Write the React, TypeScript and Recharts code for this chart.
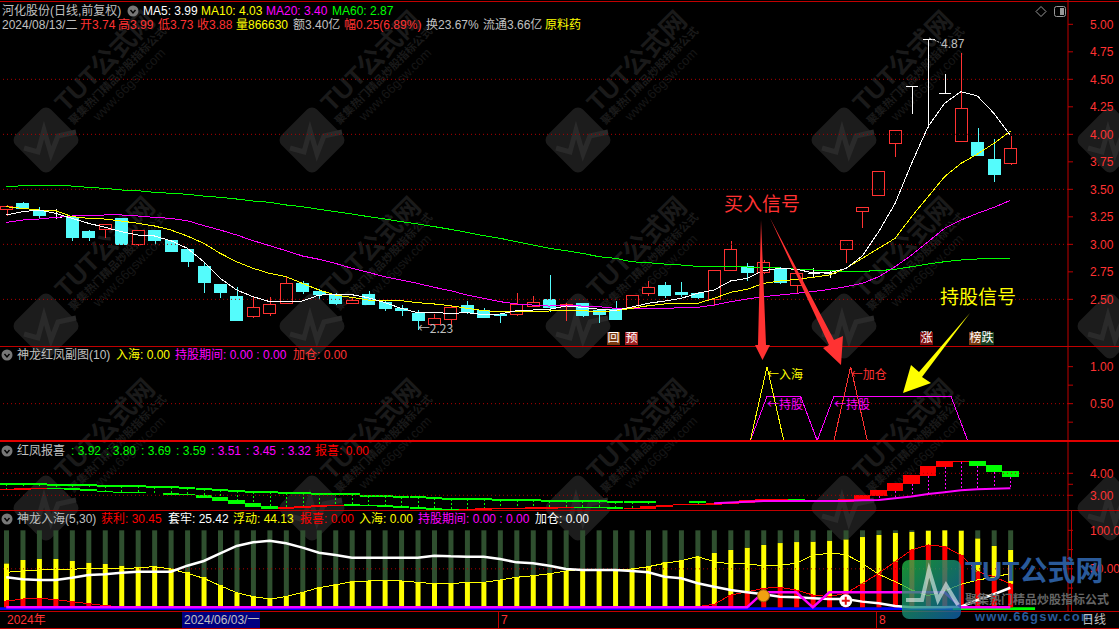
import { Bar, ComposedChart, Line, ReferenceArea, ReferenceDot, ReferenceLine, XAxis, YAxis } from 'recharts';

const RED = '#ff3232';
const CYAN = '#54fcfc';
const YEL = '#ffff00';
const MAG = '#ff00ff';
const GRN = '#00ff00';
const GREY = '#c0c0c0';
const GRID = '#b00000';
const FONT = '"Liberation Sans","Noto Sans CJK SC",sans-serif';
const CJK = '"Noto Sans CJK SC",sans-serif';

const opens = [3.32,3.38,3.31,3.245,3.25,3.12,3.14,3.235,3.0,3.13,3.04,2.96,2.8,2.64,2.53,2.35,2.38,2.47,2.645,2.575,2.54,2.47,2.545,2.475,2.42,2.38,2.28,2.325,2.45,2.4,2.37,2.365,2.44,2.5,2.44,2.465,2.4,2.415,2.435,2.56,2.635,2.565,2.56,2.5,2.77,2.8,2.75,2.78,2.635,2.735,2.74,2.955,3.3,3.45,3.925,4.435,4.87,4.38,3.94,3.93,3.775,3.74];
const closes = [3.35,3.33,3.27,3.245,3.07,3.07,3.185,3.005,3.13,3.04,2.94,2.85,2.66,2.57,2.31,2.435,2.46,2.645,2.58,2.55,2.47,2.495,2.46,2.425,2.4,2.31,2.335,2.435,2.385,2.34,2.36,2.46,2.48,2.43,2.46,2.355,2.365,2.32,2.54,2.615,2.54,2.55,2.525,2.765,2.955,2.75,2.84,2.66,2.735,2.735,2.74,3.035,3.335,3.665,4.035,4.435,4.87,4.38,4.235,3.81,3.64,3.88];
const highs = [3.37,3.39,3.35,3.33,3.28,3.14,3.185,3.235,3.13,3.13,3.05,2.97,2.85,2.64,2.62,2.53,2.53,2.71,2.68,2.6,2.57,2.525,2.585,2.5,2.46,2.41,2.38,2.45,2.495,2.43,2.375,2.565,2.54,2.73,2.48,2.48,2.42,2.49,2.54,2.68,2.665,2.665,2.58,2.765,3.04,2.84,2.87,2.8,2.735,2.795,2.78,3.035,3.335,3.665,4.035,4.435,4.87,4.555,4.75,4.07,3.97,3.99];
const lows = [3.27,3.33,3.24,3.24,3.04,3.04,3.07,3.005,2.995,3.0,2.94,2.8,2.57,2.52,2.31,2.34,2.36,2.47,2.56,2.505,2.46,2.465,2.46,2.4,2.36,2.23,2.28,2.28,2.38,2.34,2.29,2.36,2.44,2.39,2.31,2.35,2.295,2.32,2.42,2.54,2.525,2.53,2.51,2.45,2.77,2.68,2.74,2.645,2.57,2.7,2.705,2.84,3.16,3.45,3.8,4.19,4.07,4.38,3.94,3.81,3.575,3.73];
const ma5 = [3.267,3.297,3.312,3.282,3.236,3.191,3.155,3.115,3.085,3.076,3.033,2.964,2.842,2.691,2.585,2.524,2.479,2.479,2.485,2.539,2.542,2.542,2.515,2.47,2.418,2.379,2.379,2.373,2.379,2.361,2.367,2.397,2.403,2.409,2.44,2.427,2.41,2.4,2.43,2.464,2.485,2.509,2.555,2.585,2.667,2.691,2.761,2.782,2.773,2.742,2.742,2.779,2.894,3.115,3.373,3.736,4.07,4.282,4.388,4.348,4.191,3.99];
const ma10 = [3.342,3.327,3.312,3.306,3.252,3.236,3.23,3.212,3.191,3.167,3.13,3.076,3.009,2.918,2.842,2.782,2.736,2.706,2.645,2.585,2.539,2.518,2.494,2.488,2.488,2.47,2.458,2.442,2.418,2.397,2.388,2.388,2.388,2.394,2.403,2.397,2.388,2.397,2.418,2.442,2.458,2.464,2.464,2.509,2.564,2.591,2.645,2.667,2.682,2.7,2.721,2.782,2.873,2.964,3.055,3.252,3.433,3.615,3.736,3.821,3.918,4.03];
const ma20 = [3.2,3.221,3.23,3.245,3.258,3.261,3.267,3.267,3.258,3.245,3.236,3.215,3.17,3.13,3.085,3.033,2.988,2.942,2.894,2.864,2.827,2.782,2.745,2.706,2.676,2.645,2.609,2.579,2.539,2.509,2.479,2.458,2.448,2.439,2.448,2.439,2.433,2.418,2.418,2.418,2.418,2.424,2.427,2.448,2.479,2.503,2.524,2.539,2.555,2.57,2.591,2.615,2.645,2.706,2.797,2.903,3.024,3.145,3.221,3.282,3.336,3.4];
const ma60 = [3.524,3.533,3.536,3.536,3.53,3.518,3.509,3.494,3.488,3.473,3.464,3.455,3.439,3.427,3.412,3.394,3.382,3.358,3.342,3.318,3.297,3.276,3.252,3.23,3.206,3.185,3.161,3.136,3.109,3.079,3.055,3.024,2.994,2.964,2.942,2.918,2.888,2.873,2.842,2.833,2.821,2.812,2.8,2.797,2.797,2.794,2.791,2.785,2.773,2.767,2.761,2.755,2.755,2.761,2.773,2.797,2.821,2.842,2.858,2.867,2.87,2.87];

const n = null;
const rushIn = [n,n,n,n,n,n,n,n,n,n,n,n,n,n,n,n,n,n,n,n,n,n,n,n,n,n,n,n,n,n,n,n,n,n,n,n,n,n,n,n,n,n,n,n,n,0,1,0,n,n,0,0,0,n,n,n,n,n,n,n,n,n];
const addPos = [n,n,n,n,n,n,n,n,n,n,n,n,n,n,n,n,n,n,n,n,n,n,n,n,n,n,n,n,n,n,n,n,n,n,n,n,n,n,n,n,n,n,n,n,n,n,n,n,n,n,0,1,0,n,n,n,n,n,n,n,n,n];
const holding = [n,n,n,n,n,n,n,n,n,n,n,n,n,n,n,n,n,n,n,n,n,n,n,n,n,n,n,n,n,n,n,n,n,n,n,n,n,n,n,n,n,n,n,n,n,0,0.6,0.6,0.6,0,0.6,0.6,0.6,0.6,0.6,0.6,0.6,0.6,0,n,n,n];

const phUpper = [3.53,3.53,3.53,3.49,3.49,3.49,3.44,3.44,3.44,3.39,3.39,3.33,3.29,3.24,3.2,3.15,3.15,3.11,3.11,3.05,3.05,3.05,2.98,2.98,2.94,2.94,2.88,2.83,2.83,2.83,2.79,2.79,2.79,2.74,2.74,2.74,2.74,2.7,2.7,2.7,n,n,2.7,n,n,n,n,n,n,n,n,n,n,n,n,n,n,n,n,n,n,n];
const phHi = [3.29,3.32,3.33,3.32,3.32,3.27,3.18,3.15,3.14,3.12,3.11,3.06,3.02,2.92,2.79,2.65,2.51,2.47,2.51,2.56,2.58,2.59,2.56,2.54,2.5,2.45,2.41,2.38,2.38,2.42,2.41,2.41,2.47,2.45,2.47,2.47,2.47,2.47,2.41,2.51,2.56,2.61,2.62,2.64,2.71,2.79,2.83,2.83,2.83,2.8,2.8,2.83,3.02,3.24,3.56,3.92,4.32,4.56,4.56,4.56,4.38,4.11];
const phLo = [3.26,3.26,3.29,3.29,3.26,3.18,3.14,3.12,3.09,3.09,3.03,3.0,2.89,2.76,2.61,2.48,2.38,2.39,2.44,2.48,2.52,2.53,2.52,2.48,2.44,2.39,2.35,2.33,2.35,2.35,2.38,2.38,2.39,2.39,2.42,2.42,2.42,2.39,2.38,2.39,2.47,2.54,2.56,2.58,2.59,2.67,2.74,2.76,2.74,2.71,2.74,2.71,2.77,2.97,3.21,3.52,3.89,4.3,4.53,4.35,4.06,3.83];
const phRising = [1,1,1,0,0,0,0,0,0,0,0,0,0,0,0,0,0,1,1,1,1,0,0,0,0,0,0,0,1,1,1,1,1,1,1,0,0,0,1,1,1,1,1,1,1,1,1,1,0,0,1,1,1,1,1,1,1,1,1,0,0,0];
const phFloor = [n,n,n,n,n,n,n,n,n,n,n,n,n,n,n,n,n,n,n,n,n,n,n,n,n,n,n,n,n,n,n,n,n,n,n,n,n,n,n,n,n,n,n,2.64,2.67,2.71,2.74,2.74,2.74,2.74,2.74,2.74,2.77,2.79,2.86,2.94,3.06,3.14,3.23,3.27,3.3,3.32];

const chipTop = [57.1,61.5,62.8,62.8,60.2,58,56.3,54.1,52.8,53.7,50.6,46.3,39.4,29,19,13.9,10.8,14.7,20.3,26.8,30.3,34.6,34.2,34.2,34.2,32.5,30.7,31.2,32.5,32.5,35.5,39,41.1,43.7,47.2,49.4,49.4,49.4,50.6,53.7,58.9,61.5,66.2,70.6,74.5,77.5,81,83.5,84.8,85.3,86.6,88.3,91.3,93.9,96.5,97.8,99.6,100,99.6,89.6,79.7,74.55];
const profit = [8.2,10.8,11.7,10,7.4,4.8,2.2,0.9,0,0,0,0,0,0,0,0,0,0,0,0,0,0,0,0,0,0,0,0,0,0,0,0,0,0,0,0,0,0,0,0,0,0,0.9,3.9,16,20,24.7,26,22.5,16,13.9,18.2,30.7,44.2,59.3,74.5,81,79,68,46.3,39.8,30.45];
const floating = [45.5,47.2,48.5,49.4,49.4,50.6,50.6,49.8,51.5,52.8,49.8,44.2,37.7,28.1,19,13.9,10.8,13.9,19.5,25.5,29,33.3,34.2,34.2,34.2,32.5,30.7,30.7,32.5,32.5,35.5,39,41.1,43.7,47.2,49.4,49.4,49.4,49.8,52.8,57.1,60.6,65.8,59.3,56.3,56.3,54.1,55,57.1,68,70.1,68.8,57.1,42.9,33.3,22.5,15.2,21.2,29.9,35.5,39,44.13];
const trapped = [39,36.4,35.5,35.5,38.5,42,42.9,45,46.3,46.3,46.3,54.1,60.2,70.1,79.7,84.4,86.6,83.1,77.5,71,68,64.5,64.5,64.5,64.5,64.5,67.1,66.2,65.8,65.8,62.8,58.4,57.1,54.1,49.8,48.5,48.5,48.5,47.2,45.5,39.8,37.7,31.2,26.8,22.5,19.5,16.9,13.9,13,11.7,10.8,10.8,7.4,5.2,1.7,0,0,0,0.9,9.5,17,25.42];
const holdLine = [0,0,0,0,0,0,0,0,0,0,0,0,0,0,0,0,0,0,0,0,0,0,0,0,0,0,0,0,0,0,0,0,0,0,0,0,0,0,0,0,0,0,0,0,0,0,19.5,19.5,19.5,0,19.5,19.5,19.5,19.5,19.5,19.5,19.5,19.5,0,0,0,0];

const priceTicks = [5, 4.75, 4.5, 4.25, 4, 3.75, 3.5, 3.25, 3, 2.75, 2.5];
const priceGrid = [4.5, 4, 3.5, 3, 2.5];

const SLOTS = 65;
const rows = Array.from({ length: SLOTS }, (_, i) => i < opens.length ? {
  i,
  open: opens[i], close: closes[i], high: highs[i], low: lows[i],
  range: [lows[i], highs[i]],
  ma5: ma5[i], ma10: ma10[i], ma20: ma20[i], ma60: ma60[i],
  rushIn: rushIn[i], addPos: addPos[i], holding: holding[i],
  upper: phUpper[i], hi: phHi[i], lo: phLo[i], rising: phRising[i], floor: phFloor[i],
  span: [Math.min(phLo[i], phFloor[i] ?? 99), Math.max(phHi[i], phUpper[i] ?? 0)],
  red: profit[i], yel: chipTop[i] - profit[i], dark: 100 - chipTop[i],
  profit: profit[i], floating: floating[i], trapped: trapped[i], holdLine: holdLine[i],
} : { i });

function Candle({ x, y, width, height, payload }: any) {
  if (payload?.open == null) return null;
  const { open, close, high, low } = payload;
  const top = Math.min(y, y + height);
  const unit = Math.abs(height) / (high - low);
  const py = (v: number) => Math.round(top + (high - v) * unit) + 0.5;
  const cx = Math.round(x + width / 2) + 0.5;
  const l = Math.round(x) + 0.5;
  const w = Math.round(width) - 1;
  const doji = Math.abs(open - close) < 0.001;
  const up = close > open;
  const color = doji ? '#ffffff' : up ? RED : CYAN;
  return (
    <g shapeRendering="crispEdges">
      <line x1={cx} x2={cx} y1={py(high)} y2={py(low)} stroke={color} />
      {doji
        ? <line x1={l} x2={l + w} y1={py(close)} y2={py(close)} stroke={color} />
        : <rect x={l} y={py(Math.max(open, close))} width={w} height={Math.max(1, py(Math.min(open, close)) - py(Math.max(open, close)))} fill={up ? '#000' : CYAN} stroke={color} />}
    </g>
  );
}

function PhoenixBand({ x, y, width, height, payload }: any) {
  if (payload?.hi == null) return null;
  const [bottom, ceiling] = payload.span;
  const top = Math.min(y, y + height);
  const unit = Math.abs(height) / (ceiling - bottom);
  const py = (v: number) => top + (ceiling - v) * unit;
  const cx = Math.round(x + width / 2) + 0.5;
  const color = payload.rising ? '#ff0000' : GRN;
  return (
    <g shapeRendering="crispEdges">
      {payload.upper != null && <line x1={cx} x2={cx} y1={py(payload.upper)} y2={py(payload.hi)} stroke={GRN} strokeDasharray="2 2" />}
      {payload.floor != null && payload.i >= 52 && <line x1={cx} x2={cx} y1={py(payload.lo)} y2={py(payload.floor)} stroke={MAG} strokeDasharray="2 2" />}
      {payload.upper != null && <rect x={x} y={py(payload.upper) - 1} width={width} height={2} fill={GRN} />}
      <rect x={x} y={py(payload.hi)} width={width} height={py(payload.lo) - py(payload.hi)} fill={color} />
    </g>
  );
}

function OrangeDot({ cx, cy }: any) {
  return <circle cx={cx} cy={cy} r={6} fill="#f0a010" stroke="#a06010" />;
}

function PlusDot({ cx, cy }: any) {
  return (
    <g>
      <circle cx={cx} cy={cy} r={6.5} fill="#ffffff" />
      <path d={`M${cx - 4} ${cy}H${cx + 4}M${cx} ${cy - 4}V${cy + 4}`} stroke="#e01010" strokeWidth={2} />
    </g>
  );
}

const PLOT_W = 1070;
const chartProps = (height: number) => ({
  width: PLOT_W + 51,
  height,
  data: rows,
  margin: { top: 0, right: 0, bottom: 0, left: 0 },
});

function Panel({ top, children }: any) {
  return <div style={{ position: 'absolute', left: -2, top }}>{children}</div>;
}

function axis(domain: number[], ticks: number[], fmt: (v: number) => string) {
  return (
    <YAxis
      orientation="right"
      width={51}
      type="number"
      domain={domain}
      ticks={ticks}
      interval={0}
      allowDataOverflow
      tickFormatter={fmt}
      axisLine={{ stroke: '#c00000' }}
      tickLine={{ stroke: '#c00000' }}
      tickSize={5}
      tickMargin={17}
      tick={{ fill: RED, fontSize: 12, fontFamily: FONT }}
    />
  );
}

function T({ x, y, c = GREY, size = 12, children, style }: any) {
  return (
    <span style={{ position: 'absolute', left: x, top: y, transform: 'translateY(-50%)', color: c, fontSize: size, fontFamily: FONT, whiteSpace: 'nowrap', lineHeight: 1, ...style }}>
      {children}
    </span>
  );
}

function Tag({ x, bg, children }: any) {
  return (
    <span style={{ position: 'absolute', left: x, top: 332, width: 13, height: 13, background: bg, color: '#fff', fontSize: 12, lineHeight: '13px', textAlign: 'center', fontFamily: FONT }}>
      {children}
    </span>
  );
}

function Rule({ y, h = 1, c = '#c00000' }: any) {
  return <div style={{ position: 'absolute', left: 0, top: y, width: 1119, height: h, background: c }} />;
}

const wmCols = [46, 312, 578, 844, 1110];
const wmRows = [140, 326, 508];

function Watermarks() {
  return (
    <svg width={1119} height={629} style={{ position: 'absolute', left: 0, top: 0 }}>
      {wmRows.map((wy) => wmCols.map((wx) => (
        <g key={`${wx}-${wy}`} transform={`translate(${wx} ${wy})`}>
          <rect x={-25} y={-25} width={50} height={50} rx={7} fill="#1c1c1c" transform="rotate(45)" />
          <path d="M-22 8L-8 12L-2 -10L5 14L12 -4L30 -8" fill="none" stroke="#2a2a2a" strokeWidth={5} />
          {wx < 1000 && (
            <g transform="rotate(-45)">
              <text x={33} y={-5} fill="#1a1a1a" fontSize={26} fontWeight="700" fontFamily={FONT}>TUT公式网</text>
              <text x={30} y={9} fill="#1a1a1a" fontSize={11} fontWeight="700" fontFamily={FONT}>聚集热门精品炒股指标公式</text>
              <text x={50} y={24} fill="#161616" fontSize={13} fontFamily={FONT}>www.66gsw.com</text>
            </g>
          )}
        </g>
      )))}
    </svg>
  );
}

function Overlay() {
  return (
    <svg width={1119} height={629} style={{ position: 'absolute', left: 0, top: 0 }}>
      <defs>
        <linearGradient id="logoFill" x1="0" y1="0" x2="1" y2="1">
          <stop offset="0" stopColor="#20c040" stopOpacity={0.75} />
          <stop offset="1" stopColor="#1060b0" stopOpacity={0.8} />
        </linearGradient>
      </defs>
      <polygon points="761,220 766,345 770,345 762.5,360 755,345 758,345" fill={RED} />
      <polygon points="770,218 834,340 843,336 841,365 823,348 829,345" fill={RED} />
      <polygon points="970,313 922,377 931,383 903,393 911,365 919,372" fill={YEL} />
      <path d="M929 38L941 43" stroke={GREY} strokeDasharray="2 1" />
      <rect x={902} y={560} width={59} height={59} rx={7} fill="url(#logoFill)" />
      <path d="M906 600L922 600L929 570L938 600L946 585L958 605" fill="none" stroke="#ffffff" strokeOpacity={0.55} strokeWidth={4} />
      <circle cx={133} cy={11} r={5.5} fill="#777" />
      <path d="M130.5 10L133 13L135.5 10" stroke="#000" fill="none" strokeWidth={1.4} />
      {[355, 451, 519].map((cy) => (
        <g key={cy}>
          <circle cx={7} cy={cy} r={5.5} fill="#777" />
          <path d={`M4.5 ${cy - 1}L7 ${cy + 2}L9.5 ${cy - 1}`} stroke="#000" fill="none" strokeWidth={1.4} />
        </g>
      ))}
      <path d="M1041 6.5L1046 11.5L1041 16.5L1036 11.5Z" fill="none" stroke="#999" />
      <rect x={1054.5} y={6.5} width={11} height={10} rx={2} fill="none" stroke="#999" />
      <rect x={1060} y={8} width={4} height={7} fill="#999" />
      <line x1={498.5} x2={498.5} y1={612} y2={628} stroke="#c00000" />
      <line x1={876.5} x2={876.5} y1={612} y2={628} stroke="#c00000" />
      <line x1={1071.5} x2={1071.5} y1={511} y2={612} stroke="#c00000" />
    </svg>
  );
}

export default function App() {
  const fmt2 = (v: number) => v.toFixed(2);
  const thin = { dot: false, strokeWidth: 1, shapeRendering: 'crispEdges', isAnimationActive: false } as any;
  return (
    <div style={{ position: 'absolute', left: 0, top: 0, width: 1119, height: 629, background: '#000', overflow: 'hidden' }}>
      <Watermarks />

      <Panel top={0}>
        <ComposedChart {...chartProps(346)}>
          <XAxis dataKey="i" type="category" hide />
          {axis([2.076, 5.221], priceTicks, fmt2)}
          {priceGrid.map((v) => <ReferenceLine key={v} y={v} stroke={GRID} strokeDasharray="1 3" />)}
          <Bar dataKey="range" barSize={13} shape={<Candle />} isAnimationActive={false} />
          <Line dataKey="ma60" stroke={GRN} {...thin} />
          <Line dataKey="ma20" stroke={MAG} {...thin} />
          <Line dataKey="ma10" stroke={YEL} {...thin} />
          <Line dataKey="ma5" stroke="#ffffff" {...thin} />
          <ReferenceDot x={25} y={2.23} r={0} label={{ value: '←2.23', position: 'right', offset: 0, fill: GREY, fontSize: 12, fontFamily: CJK }} />
        </ComposedChart>
      </Panel>

      <Panel top={346}>
        <ComposedChart {...chartProps(95)}>
          <XAxis dataKey="i" type="category" hide />
          {axis([-0.0045, 1.279], [1, 0.75, 0.5, 0.25], (v) => (v === 1 || v === 0.5 ? v.toFixed(2) : ''))}
          <ReferenceLine y={0.5} stroke={GRID} strokeDasharray="1 3" />
          <Line dataKey="holding" stroke={MAG} {...thin} />
          <Line dataKey="addPos" stroke={RED} {...thin} />
          <Line dataKey="rushIn" stroke={YEL} {...thin} />
          <ReferenceDot x={46} y={0.887} r={0} label={{ value: '←入海', position: 'right', offset: 0, fill: YEL, fontSize: 12, fontFamily: CJK }} />
          <ReferenceDot x={46} y={0.49} r={0} label={{ value: '←持股', position: 'right', offset: 0, fill: MAG, fontSize: 12, fontFamily: CJK }} />
          <ReferenceDot x={51} y={0.887} r={0} label={{ value: '←加仓', position: 'right', offset: 0, fill: RED, fontSize: 12, fontFamily: CJK }} />
          <ReferenceDot x={50} y={0.49} r={0} label={{ value: '←持股', position: 'right', offset: 0, fill: MAG, fontSize: 12, fontFamily: CJK }} />
        </ComposedChart>
      </Panel>

      <Panel top={441}>
        <ComposedChart {...chartProps(69)}>
          <XAxis dataKey="i" type="category" hide />
          {axis([2.33, 5.47], [4, 3.5, 3], (v) => (v === 3.5 ? '' : v.toFixed(2)))}
          <ReferenceLine y={4} stroke={GRID} strokeDasharray="1 3" />
          <ReferenceLine y={3} stroke={GRID} strokeDasharray="1 3" />
          <Bar dataKey="span" barSize={16.4} shape={<PhoenixBand />} isAnimationActive={false} />
          <Line dataKey="floor" stroke={MAG} dot={false} strokeWidth={2} isAnimationActive={false} />
        </ComposedChart>
      </Panel>

      <Panel top={510}>
        <ComposedChart {...chartProps(102)}>
          <XAxis dataKey="i" type="category" hide />
          {axis([-6.06, 126.4], [100, 75, 50, 25], (v) => (v === 100 ? '100.0' : v === 50 ? '50.00' : ''))}
          <ReferenceLine y={50} stroke={GRID} strokeDasharray="1 3" />
          <Bar dataKey="red" stackId="chips" fill="#ff0000" barSize={5} isAnimationActive={false} />
          <Bar dataKey="yel" stackId="chips" fill={YEL} barSize={5} isAnimationActive={false} />
          <Bar dataKey="dark" stackId="chips" fill="#2f4f2f" barSize={5} isAnimationActive={false} />
          <ReferenceArea x1={0} x2={57} y1={-3.4} y2={0} fill="#0000ff" fillOpacity={1} strokeOpacity={0} />
          <ReferenceArea x1={58} x2={62} y1={-3.4} y2={0} fill={GRN} fillOpacity={1} strokeOpacity={0} />
          <Line dataKey="profit" stroke="#ff0000" {...thin} />
          <Line dataKey="floating" stroke={YEL} {...thin} />
          <Line dataKey="trapped" stroke="#ffffff" dot={false} strokeWidth={2.5} isAnimationActive={false} />
          <Line dataKey="holdLine" stroke={MAG} dot={false} strokeWidth={2.5} isAnimationActive={false} />
          <ReferenceDot x={46} y={15} shape={<OrangeDot />} />
          <ReferenceDot x={51} y={8.7} shape={<PlusDot />} />
        </ComposedChart>
      </Panel>

      <Rule y={1} />
      <Rule y={346} />
      <Rule y={440} h={2} c="#e00000" />
      <Rule y={510} />
      <Rule y={611} />
      <Rule y={628} />

      <T x={2} y={11}>河化股份(日线,前复权)</T>
      <T x={143} y={11} c="#fff">MA5: 3.99</T>
      <T x={201} y={11} c={YEL}>MA10: 4.03</T>
      <T x={266} y={11} c={MAG}>MA20: 3.40</T>
      <T x={332} y={11} c={GRN}>MA60: 2.87</T>

      <T x={2} y={25}>2024/08/13/二</T>
      <T x={80} y={25} c={RED}>开3.74</T>
      <T x={118} y={25} c={RED}>高3.99</T>
      <T x={158} y={25} c={RED}>低3.73</T>
      <T x={197} y={25} c={RED}>收3.88</T>
      <T x={236} y={25} c={YEL}>量866630</T>
      <T x={293} y={25}>额3.40亿</T>
      <T x={344} y={25} c={RED}>幅0.25(6.89%)</T>
      <T x={426} y={25}>换23.67%</T>
      <T x={483} y={25}>流通3.66亿</T>
      <T x={545} y={25} c={YEL}>原料药</T>

      <T x={17} y={355}>神龙红凤副图(10)</T>
      <T x={116} y={355} c={YEL}>入海: 0.00</T>
      <T x={175} y={355} c={MAG}>持股期间: 0.00 : 0.00</T>
      <T x={293} y={355} c={RED}>加仓: 0.00</T>

      <T x={17} y={451}>红凤报喜</T>
      <T x={71} y={451} c={GRN}>: 3.92</T>
      <T x={106} y={451} c={GRN}>: 3.80</T>
      <T x={141} y={451} c={GRN}>: 3.69</T>
      <T x={176} y={451} c={GRN}>: 3.59</T>
      <T x={211} y={451} c={MAG}>: 3.51</T>
      <T x={246} y={451} c={MAG}>: 3.45</T>
      <T x={281} y={451} c={MAG}>: 3.32</T>
      <T x={315} y={451} c="#ff0000">报喜: 0.00</T>

      <T x={17} y={519}>神龙入海(5,30)</T>
      <T x={101} y={519} c="#ff0000">获利: 30.45</T>
      <T x={168} y={519} c="#fff">套牢: 25.42</T>
      <T x={233} y={519} c={YEL}>浮动: 44.13</T>
      <T x={300} y={519} c="#ff0000">报喜: 0.00</T>
      <T x={359} y={519} c={YEL}>入海: 0.00</T>
      <T x={418} y={519} c={MAG}>持股期间: 0.00 : 0.00</T>
      <T x={535} y={519} c="#fff">加仓: 0.00</T>

      <T x={941} y={44}>4.87</T>
      <T x={724} y={204} c={RED} size={19}>买入信号</T>
      <T x={940} y={297} c={YEL} size={19}>持股信号</T>

      <Tag x={607} bg="#7a3a10">回</Tag>
      <Tag x={625} bg="#a02020">预</Tag>
      <Tag x={920} bg="#801010">涨</Tag>
      <Tag x={969} bg="#7a3a10">榜</Tag>
      <Tag x={981} bg="#1a4020">跌</Tag>

      <T x={7} y={620} c={RED}>2024年</T>
      <div style={{ position: 'absolute', left: 182, top: 612, width: 78, height: 16, background: '#000080' }} />
      <T x={184} y={620}>2024/06/03/一</T>
      <T x={501} y={620} c={RED}>7</T>
      <T x={879} y={620} c={RED}>8</T>

      <Overlay />

      <T x={965} y={572} c="#2a5a9a" size={28} style={{ fontWeight: 700 }}>TUT公式网</T>
      <T x={965} y={600} c="#666" size={12} style={{ fontWeight: 700 }}>聚集热门精品炒股指标公式</T>
      <T x={975} y={616} c="#2a5a9a" size={13} style={{ fontWeight: 700, letterSpacing: 1.2 }}>www.66gsw.com</T>
      <T x={1082} y={620}>日线</T>
    </div>
  );
}
